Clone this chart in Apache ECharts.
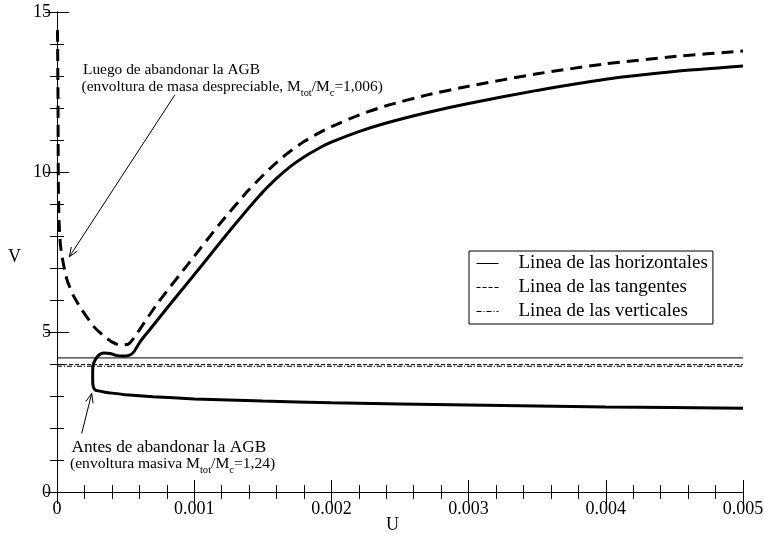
<!DOCTYPE html>
<html>
<head>
<meta charset="utf-8">
<script src="https://cdn.jsdelivr.net/npm/echarts@6/dist/echarts.min.js"></script>
<style>
  html, body { margin: 0; padding: 0; background: #fff; }
  #chart { width: 764px; height: 537px; }
</style>
</head>
<body>
<div id="chart"></div>
<script>
// Solid branch (massive envelope): lower part, loop, then rising part
const solidU = [0.005, 0.004, 0.003, 0.002, 0.0015, 0.001, 0.0007, 0.0005, 0.0004, 0.00035, 0.0003,
  0.000277, 0.000262, 0.00026, 0.000262, 0.000277, 0.000306, 0.000342, 0.000386, 0.00043, 0.00048,
  0.00053, 0.00056, 0.00061, 0.000677, 0.000823, 0.00104, 0.00126, 0.00148, 0.0016, 0.0017,
  0.0018, 0.0019, 0.002, 0.0022, 0.0024, 0.0027, 0.003, 0.0035, 0.004, 0.0045, 0.005];
const solidV = [2.62, 2.66, 2.72, 2.79, 2.84, 2.91, 2.98, 3.04, 3.09, 3.12, 3.16,
  3.19, 3.34, 3.66, 3.94, 4.12, 4.28, 4.34, 4.33, 4.27, 4.25,
  4.28, 4.38, 4.72, 5.08, 5.86, 7.0, 8.17, 9.28, 9.8, 10.17,
  10.47, 10.72, 10.93, 11.26, 11.53, 11.86, 12.14, 12.55, 12.9, 13.14, 13.31];

// Dashed branch (negligible envelope)
const dashU = [0.0000036, 0.0000073, 0.0000095, 0.0000146, 0.000025, 0.000044, 0.000073, 0.000117,
  0.000168, 0.00027, 0.00034, 0.0004, 0.00046, 0.00052, 0.00056, 0.0006, 0.000735, 0.00097,
  0.00119, 0.0014, 0.00155, 0.00167, 0.0018, 0.0019, 0.002, 0.0022, 0.0024, 0.0027, 0.003,
  0.0035, 0.004, 0.0045, 0.005];
const dashV = [14.44, 12.25, 9.75, 8.5, 7.72, 7.19, 6.63, 6.16,
  5.78, 5.16, 4.88, 4.69, 4.59, 4.62, 4.81, 5.06, 5.91, 7.2,
  8.4, 9.45, 10.1, 10.55, 10.95, 11.2, 11.42, 11.78, 12.07, 12.41, 12.68,
  13.07, 13.38, 13.61, 13.78];

// Reference lines
const lineNames = ['Linea de las horizontales', 'Linea de las tangentes', 'Linea de las verticales'];
const lineLevels = [4.19, 3.98, 3.93];

// Annotation arrows: [U0, V0, U1, V1]
const arrowUpper = [0.000859, 12.41, 0.00009, 7.35];
const arrowLower = [0.00018, 1.83, 0.000253, 3.08];

const xTicks = [0, 0.001, 0.002, 0.003, 0.004, 0.005];
const yTicks = [0, 5, 10, 15];

const pairs = (us, vs) => us.map((u, i) => [u, vs[i]]);
const FONT = 'Liberation Serif';

const chart = echarts.init(document.getElementById('chart'));

const tickCommon = {
  axisLine: { show: true, lineStyle: { color: '#000', width: 1 } },
  axisTick: { show: true, inside: true, length: 12, lineStyle: { color: '#000', width: 1 } },
  minorTick: { show: true, splitNumber: 5, length: 7, lineStyle: { color: '#000', width: 1 } },
  splitLine: { show: false },
  minorSplitLine: { show: false }
};

const xBase = Object.assign({ type: 'value', min: xTicks[0], max: xTicks[xTicks.length - 1], interval: 0.001 }, tickCommon);
const yBase = Object.assign({ type: 'value', min: yTicks[0], max: yTicks[yTicks.length - 1], interval: 5 }, tickCommon);

function arrowItem(params, api) {
  const p0 = api.coord([api.value(0), api.value(1)]);
  const p1 = api.coord([api.value(2), api.value(3)]);
  const ang = Math.atan2(p1[1] - p0[1], p1[0] - p0[0]);
  const L = 10, spread = 0.38;
  const a1 = [p1[0] - L * Math.cos(ang - spread), p1[1] - L * Math.sin(ang - spread)];
  const a2 = [p1[0] - L * Math.cos(ang + spread), p1[1] - L * Math.sin(ang + spread)];
  const st = { stroke: '#000', lineWidth: 1, fill: null };
  return {
    type: 'group',
    children: [
      { type: 'line', shape: { x1: p0[0], y1: p0[1], x2: p1[0], y2: p1[1] }, style: st },
      { type: 'polyline', shape: { points: [a1, p1, a2] }, style: st }
    ]
  };
}

const richSub = (size) => ({
  n: { fontFamily: FONT, fontSize: size, lineHeight: 24, color: '#000' },
  s: { fontFamily: FONT, fontSize: size * 0.68, lineHeight: 24, verticalAlign: 'bottom', color: '#000' }
});

chart.setOption({
  animation: false,
  backgroundColor: '#fff',
  grid: { left: 57, right: 21, top: 12, bottom: 45, containLabel: false, outerBoundsMode: 'none' },
  xAxis: [
    Object.assign({}, xBase, {
      position: 'bottom',
      name: 'U', nameLocation: 'middle', nameGap: 24, nameMoveOverlap: false,
      nameTextStyle: { fontFamily: FONT, fontSize: 18, color: '#000', padding: [0, 15, 0, 0] },
      axisLabel: { fontFamily: FONT, fontSize: 18, color: '#000', margin: 8,
        formatter: v => (v === 0 ? '0' : v.toFixed(3)) }
    }),
    Object.assign({}, xBase, { position: 'top', axisLabel: { show: false } })
  ],
  yAxis: [
    Object.assign({}, yBase, {
      position: 'left',
      name: 'V', nameLocation: 'middle', nameGap: 36, nameRotate: 0, nameMoveOverlap: false,
      nameTextStyle: { fontFamily: FONT, fontSize: 18, color: '#000', verticalAlign: 'top', lineHeight: 10 },
      axisLabel: { fontFamily: FONT, fontSize: 18, color: '#000', margin: 6 }
    }),
    Object.assign({}, yBase, { position: 'right', axisLabel: { show: false } })
  ],
  legend: {
    data: lineNames,
    orient: 'vertical',
    left: 469, top: 251,
    padding: [3, 5, 3, 7],
    itemGap: 5,
    itemWidth: 22, itemHeight: 12,
    backgroundColor: '#fff',
    borderColor: '#000', borderWidth: 1, borderRadius: 0,
    selectedMode: false,
    itemStyle: { opacity: 0 },
    lineStyle: { width: 1, color: '#000' },
    formatter: n => '{t|' + n + '}',
    textStyle: {
      fontFamily: FONT, fontSize: 19, color: '#000',
      rich: { t: { fontFamily: FONT, fontSize: 19, lineHeight: 19, padding: [0, 0, 0, 15] } }
    }
  },
  series: [
    {
      name: lineNames[0], type: 'line', symbol: 'none', silent: true,
      data: [[xTicks[0], lineLevels[0]], [xTicks[5], lineLevels[0]]],
      itemStyle: { color: '#000' },
      lineStyle: { color: '#000', width: 1, type: 'solid' }
    },
    {
      name: lineNames[1], type: 'line', symbol: 'none', silent: true,
      data: [[xTicks[0], lineLevels[1]], [xTicks[5], lineLevels[1]]],
      itemStyle: { color: '#000' },
      lineStyle: { color: '#000', width: 1, type: [4, 2] }
    },
    {
      name: lineNames[2], type: 'line', symbol: 'none', silent: true,
      data: [[xTicks[0], lineLevels[2]], [xTicks[5], lineLevels[2]]],
      itemStyle: { color: '#000' },
      lineStyle: { color: '#000', width: 1, type: [5, 2, 1, 2] }
    },
    {
      name: 'antes', type: 'line', symbol: 'none', silent: true, smooth: 0.2,
      data: pairs(solidU, solidV),
      lineStyle: { color: '#000', width: 3, type: 'solid' }
    },
    {
      name: 'luego', type: 'line', symbol: 'none', silent: true, smooth: 0.2,
      data: pairs(dashU, dashV),
      lineStyle: { color: '#000', width: 3, type: [12, 7] }
    },
    {
      name: 'flechas', type: 'custom', silent: true, renderItem: arrowItem,
      data: [arrowUpper, arrowLower], clip: false
    }
  ],
  graphic: [
    { type: 'text', left: 83, top: 62, style: { text: '{n|Luego de abandonar la AGB}', rich: richSub(15.4) } },
    { type: 'text', left: 81.5, top: 79, style: {
      text: '{n|(envoltura de masa despreciable, M}{s|tot}{n|/M}{s|c}{n|=1,006)}', rich: richSub(15.4) } },
    { type: 'text', left: 71.5, top: 439, style: { text: '{n|Antes de abandonar la AGB}', rich: richSub(17.3) } },
    { type: 'text', left: 70, top: 456, style: {
      text: '{n|(envoltura masiva M}{s|tot}{n|/M}{s|c}{n|=1,24)}', rich: richSub(15.6) } }
  ]
});
</script>
</body>
</html>
